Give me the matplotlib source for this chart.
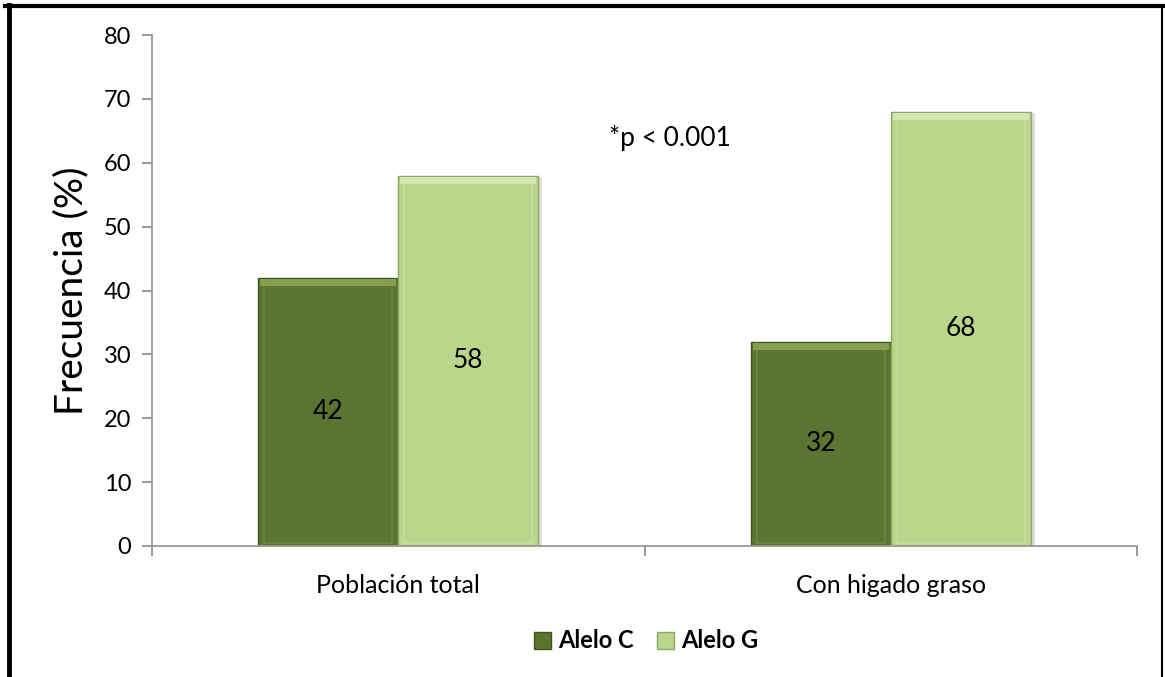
import matplotlib
matplotlib.use('Agg')
import matplotlib.pyplot as plt
from matplotlib.lines import Line2D
from matplotlib.patches import Rectangle

plt.rcParams['font.family'] = ['Lato', 'DejaVu Sans']

categories = ['Población total', 'Con higado graso']
alelo_c = [42, 32]
alelo_g = [58, 68]
series_names = ['Alelo C', 'Alelo G']
y_ticks = [0, 10, 20, 30, 40, 50, 60, 70, 80]
p_text = '*p < 0.001'

# colours: base, bevel highlight, edge
dark = ('#5b7431', '#8fa858', '#3f5520')
light = ('#b9d68a', '#dcebbd', '#8fa866')

W, H = 1165, 677
fig = plt.figure(figsize=(W / 100, H / 100), dpi=100)
ax = fig.add_axes([152 / W, 1 - 546 / H, (1137 - 152) / W, (546 - 35) / H])

width = 0.284
x = list(range(len(categories)))


def bevel_bar(xc, h, cols):
    base, hi, edge = cols
    x0 = xc - width / 2
    # soft shadow to the right
    ax.add_patch(Rectangle((x0 + 0.008, -0.4), width, h + 0.2, facecolor='#000000',
                           alpha=0.12, edgecolor='none', zorder=1))
    ax.bar(xc, h, width, color=base, edgecolor=edge, linewidth=1.0, zorder=2)
    # inner frame to fake the bevel
    ax.add_patch(Rectangle((x0 + 0.012, 0.5), width - 0.024, h - 1.6, facecolor='none',
                           edgecolor=hi, linewidth=1.2, alpha=0.35, zorder=3))
    ax.add_patch(Rectangle((x0 + 0.004, h - 1.3), width - 0.008, 1.1, facecolor=hi,
                           edgecolor='none', alpha=0.8, zorder=3))


for i in x:
    bevel_bar(i - width / 2, alelo_c[i], dark)
    bevel_bar(i + width / 2, alelo_g[i], light)
    ax.text(i - width / 2, alelo_c[i] / 2, str(alelo_c[i]), ha='center', va='center',
            fontsize=19, zorder=5)
    ax.text(i + width / 2, alelo_g[i] / 2, str(alelo_g[i]), ha='center', va='center',
            fontsize=19, zorder=5)

ax.text(0.552, 63.8, p_text, ha='center', va='center', fontsize=19)

ax.set_xlim(-0.5, 1.5)
ax.set_ylim(0, 80)
ax.set_yticks(y_ticks)
ax.set_xticks([-0.5, 0.5, 1.5])
ax.set_xticklabels([])
ax.set_xticks(x, minor=True)
ax.set_xticklabels(categories, minor=True, fontsize=18)
ax.tick_params(axis='x', which='minor', length=0, pad=20)
ax.tick_params(axis='x', which='major', length=7, color='#888888', width=1.2)
ax.tick_params(axis='y', length=7, color='#888888', width=1.2, labelsize=17, pad=8)

for s in ['top', 'right']:
    ax.spines[s].set_visible(False)
for s in ['left', 'bottom']:
    ax.spines[s].set_color('#999999')
    ax.spines[s].set_linewidth(1.3)

ax.set_ylabel('Frecuencia (%)', fontsize=28, labelpad=10)

handles = [Rectangle((0, 0), 1, 1, facecolor=dark[0], edgecolor=dark[2]),
           Rectangle((0, 0), 1, 1, facecolor=light[0], edgecolor=light[2])]
fig.legend(handles, series_names, loc='center', bbox_to_anchor=(646 / W, 1 - 641 / H),
           ncol=2, frameon=False, prop={'weight': 'bold', 'size': 17},
           handlelength=0.7, handleheight=0.7, handletextpad=0.3, columnspacing=1.0)

# outer frame of the figure
fig.add_artist(Line2D([5 / W, 1163 / W], [1 - 6 / H, 1 - 6 / H], color='black', lw=3))
fig.add_artist(Line2D([9 / W, 9 / W], [0, 1 - 5 / H], color='black', lw=3.5))
fig.add_artist(Line2D([1162 / W, 1162 / W], [0, 1 - 5 / H], color='black', lw=1.5))

fig.savefig('out.png', dpi=100)
